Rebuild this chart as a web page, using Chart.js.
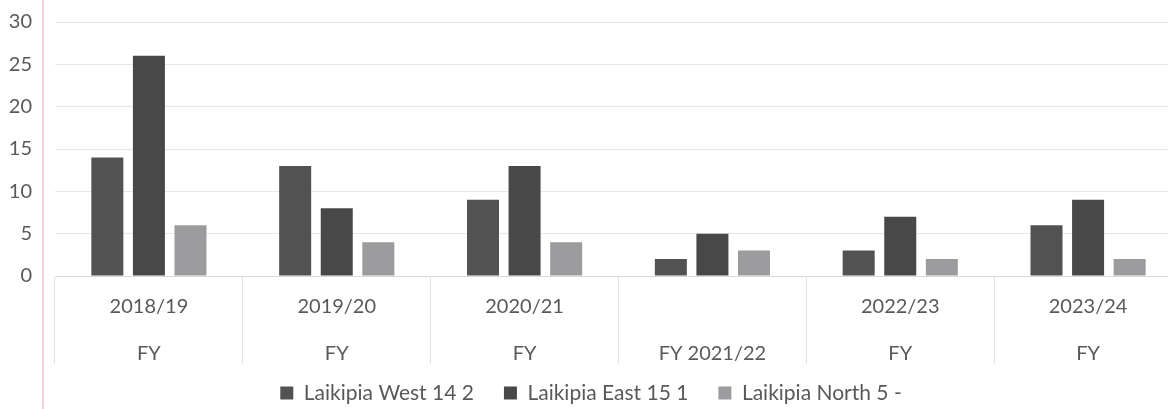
<!DOCTYPE html>
<html lang="en">
<head>
  <meta charset="UTF-8">
  <title>Laikipia by Financial Year</title>
  <script src="https://cdn.jsdelivr.net/npm/chart.js"></script>
  <style>
    body { margin: 0; background: #fff; overflow: hidden; font-family: Lato, sans-serif; }
    .wrap {
      position: relative;
      width: 1182px;
      height: 409px;
    }
    /* pink margin rule down the left side */
    .rule {
      position: absolute;
      left: 42px;
      top: 0;
      width: 2px;
      height: 409px;
      background: #f6cfdc;
    }
  </style>
</head>
<body>
<div class="wrap">
  <div class="rule"></div>
  <canvas id="myChart"></canvas>
</div>

<script>
  // Categories: first line is the year, second line the "FY" prefix
  const categories = [
    ['2018/19', 'FY'],
    ['2019/20', 'FY'],
    ['2020/21', 'FY'],
    ['', 'FY 2021/22'],
    ['2022/23', 'FY'],
    ['2023/24', 'FY']
  ];
  const seriesNames = ['Laikipia West 14 2', 'Laikipia East 15 1', 'Laikipia North 5 -'];
  const westValues  = [14, 13, 9, 2, 3, 6];
  const eastValues  = [26, 8, 13, 5, 7, 9];
  const northValues = [6, 4, 4, 3, 2, 2];
  const yTicks = [0, 5, 10, 15, 20, 25, 30];

  const textColor = '#595959';
  const ctx = document.getElementById('myChart').getContext('2d');

  const config = {
    type: 'bar',
    data: {
      labels: categories,
      datasets: [
        { label: seriesNames[0], data: westValues,  backgroundColor: '#525252' },
        { label: seriesNames[1], data: eastValues,  backgroundColor: '#484848' },
        { label: seriesNames[2], data: northValues, backgroundColor: '#9c9c9e' }
      ]
    },
    options: {
      responsive: false,
      animation: false,
      devicePixelRatio: 1,
      // legend padding is wide for item spacing, so nudge it down a little
      layout: { padding: { top: 22, left: 0, right: 0, bottom: -4.5 } },
      datasets: {
        bar: { categoryPercentage: 0.664, barPercentage: 0.77 }
      },
      plugins: {
        tooltip: { enabled: false },
        legend: {
          position: 'bottom',
          labels: {
            color: textColor,
            font: { family: 'Lato', size: 21 },
            boxWidth: 13,
            boxHeight: 13,
            padding: 30
          }
        }
      },
      scales: {
        x: {
          offset: true,
          grid: {
            offset: true,
            drawOnChartArea: false,
            color: '#e2e2e2',
            tickLength: 88
          },
          border: { color: '#d9d9d9' },
          // mirrored labels are not clipped to the (short) axis box,
          // so the two label rows can sit inside the tall tick marks
          ticks: {
            color: textColor,
            font: { family: 'Lato', size: 20, lineHeight: 2.35 },
            mirror: true,
            padding: -54.5,
            maxRotation: 0,
            autoSkip: false
          },
          afterFit: function (scale) { scale.height = 76.5; }
        },
        y: {
          min: 0,
          max: 30,
          afterBuildTicks: function (scale) {
            scale.ticks = yTicks.map(v => ({ value: v }));
          },
          // invisible tick marks keep the labels away from the plot
          grid: { color: '#e6e6f0', tickLength: 23, tickColor: 'rgba(0,0,0,0)' },
          border: { display: false },
          ticks: {
            color: textColor,
            font: { family: 'Lato', size: 20 },
            padding: 0
          },
          afterFit: function (scale) { scale.width = 55; }
        }
      }
    }
  };

  const canvas = document.getElementById('myChart');
  canvas.width = 1182;
  canvas.height = 409;
  window.myChartInstance = new Chart(ctx, config);
</script>
</body>
</html>
